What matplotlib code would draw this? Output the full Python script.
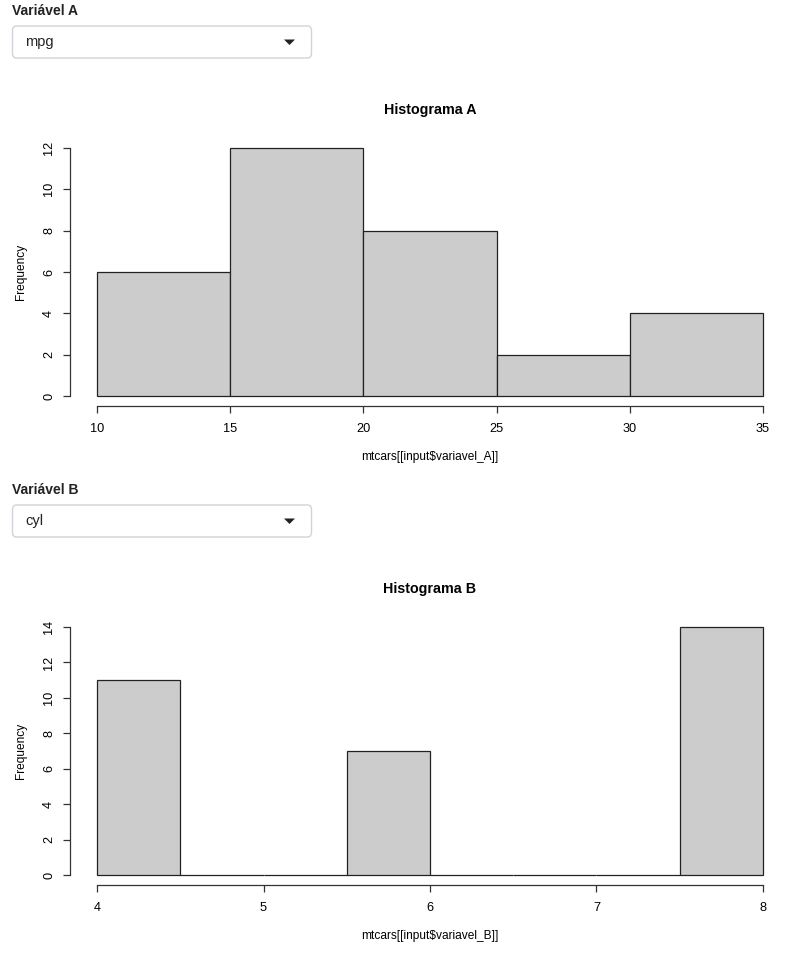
import matplotlib.pyplot as plt
from matplotlib.patches import FancyBboxPatch, Polygon
import numpy as np

plt.rcParams['font.family'] = ['Liberation Sans', 'DejaVu Sans']

# dados
breaks_A = [10, 15, 20, 25, 30, 35]
counts_A = [6, 12, 8, 2, 4]
yticks_A = [0, 2, 4, 6, 8, 10, 12]

breaks_B = [4, 4.5, 5, 5.5, 6, 6.5, 7, 7.5, 8]
counts_B = [11, 0, 0, 7, 0, 0, 0, 14]
yticks_B = [0, 2, 4, 6, 8, 10, 12, 14]
xticks_B = [4, 5, 6, 7, 8]

W, H = 793, 961
fig = plt.figure(figsize=(W / 100, H / 100), dpi=100)
fig.patch.set_facecolor('white')


def fx(x):
    return x / W


def fy(y):
    return 1 - y / H


def dropdown(y_label, y_box, label, value):
    fig.text(fx(12), fy(y_label + 1), label, fontsize=10, fontweight='bold',
             color='#222222', ha='left', va='center')
    box = FancyBboxPatch((fx(12.5), fy(y_box + 32)), fx(299), 32 / H,
                         boxstyle='round,pad=0,rounding_size=0.005',
                         transform=fig.transFigure, facecolor='white',
                         edgecolor='#cfd4da', linewidth=1)
    fig.patches.append(box)
    fig.text(fx(25), fy(y_box + 16), value, fontsize=10.5, color='#222222',
             ha='left', va='center')
    tri = Polygon([[fx(284), fy(y_box + 13.5)], [fx(295), fy(y_box + 13.5)],
                   [fx(289.5), fy(y_box + 19)]], closed=True,
                  transform=fig.transFigure, facecolor='#222222',
                  edgecolor='none')
    fig.patches.append(tri)


def histograma(top, breaks, counts, yticks, xticks, titulo, xlab):
    x0, x1 = breaks[0], breaks[-1]
    y1 = yticks[-1]
    dx = (x1 - x0) * 0.04
    dy = y1 * 0.04
    # area do grafico: primeiro break -> px 97, ultimo -> px 763
    px_per_x = (763 - 97) / (x1 - x0)
    left = 97 - dx * px_per_x
    right = 763 + dx * px_per_x
    bottom = top + 268
    ax = fig.add_axes([fx(left), fy(bottom), fx(right - left), (bottom - top) / H])
    ax.set_xlim(x0 - dx, x1 + dx)
    ax.set_ylim(-dy, y1 + dy)
    widths = np.diff(breaks)
    ax.bar(breaks[:-1], counts, width=widths, align='edge', color='#cccccc',
           edgecolor='#222222', linewidth=0.9)
    for s in ['top', 'right']:
        ax.spines[s].set_visible(False)
    ax.spines['left'].set_bounds(0, y1)
    ax.spines['bottom'].set_bounds(x0, x1)
    for s in ['left', 'bottom']:
        ax.spines[s].set_color('#333333')
        ax.spines[s].set_linewidth(0.9)
    ax.set_yticks(yticks)
    ax.set_xticks(xticks)
    ax.tick_params(axis='y', labelrotation=90, length=5, width=0.9,
                   color='#333333', pad=6, labelsize=9.2)
    ax.tick_params(axis='x', length=5, width=0.9, color='#333333', pad=7,
                   labelsize=9.2)
    for lab in ax.get_yticklabels():
        lab.set_va('center')
    ax.set_facecolor('none')
    fig.text(fx(430), fy(top - 28), titulo, fontsize=10.3, fontweight='bold',
             ha='center', va='center')
    fig.text(fx(430), fy(top + 319), xlab, fontsize=8.6, ha='center',
             va='center')
    fig.text(fx(21), fy(top + 134), 'Frequency', fontsize=8.6, rotation=90,
             ha='center', va='center')
    return ax


dropdown(10, 26, 'Variável A', 'mpg')
histograma(138, breaks_A, counts_A, yticks_A, breaks_A, 'Histograma A',
           'mtcars[[input$variavel_A]]')

dropdown(489, 505, 'Variável B', 'cyl')
histograma(617, breaks_B, counts_B, yticks_B, xticks_B, 'Histograma B',
           'mtcars[[input$variavel_B]]')

plt.savefig('out.png', dpi=100, facecolor='white')
